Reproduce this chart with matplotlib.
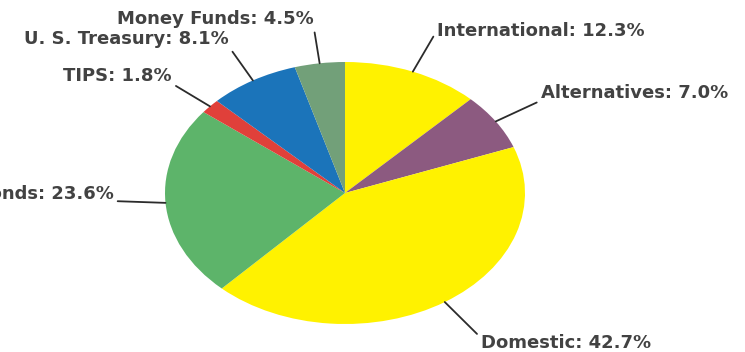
import matplotlib.pyplot as plt
import numpy as np

# slice data, clockwise from 12 o'clock
labels = ['International', 'Alternatives', 'Domestic', 'Bonds', 'TIPS',
          'U. S. Treasury', 'Money Funds']
shares = [12.3, 7.0, 42.7, 23.6, 1.8, 8.1, 4.5]
colors = ['#fff200', '#8c5a80', '#fff200', '#5db46a', '#e0403a',
          '#1b74ba', '#72a079']

# label placement: offset (pixels) from slice edge, alignment, where the leader meets text
offsets = [(24, 41), (45, 19), (36, -32), (-52, 0), (-38, 21), (-24, 32), (-6, 35)]
aligns = [('left', 'center'), ('left', 'bottom'), ('left', 'top'), ('right', 'bottom'),
          ('right', 'bottom'), ('right', 'bottom'), ('right', 'bottom')]
relpos = [(0, 0.5), (0, 0.1), (0, 0.8), (1, 0.1), (1, 0.1), (1, 0.1), (1, 0.1)]

fig = plt.figure(figsize=(7.45, 3.52), dpi=100)
ax = fig.add_axes([165 / 745, 28 / 352, 360 / 745, 262 / 352])

wedges, _ = ax.pie(shares, colors=colors, startangle=90, counterclock=False,
                   wedgeprops=dict(linewidth=0))
ax.set_aspect('auto')
ax.set_xlim(-1, 1)
ax.set_ylim(-1, 1)
ax.axis('off')

for w, lab, val, off, al, rp in zip(wedges, labels, shares, offsets, aligns, relpos):
    ang = np.deg2rad((w.theta1 + w.theta2) / 2)
    x, y = np.cos(ang), np.sin(ang)
    ax.annotate(f'{lab}: {val:.1f}%', xy=(x, y), xytext=off, textcoords='offset pixels',
                ha=al[0], va=al[1], fontsize=13, fontweight='bold', color='#424242',
                annotation_clip=False,
                arrowprops=dict(arrowstyle='-', color='#2b2b2b', lw=1.3,
                                shrinkA=1, shrinkB=0, relpos=rp))

fig.savefig('out.png', dpi=100)
